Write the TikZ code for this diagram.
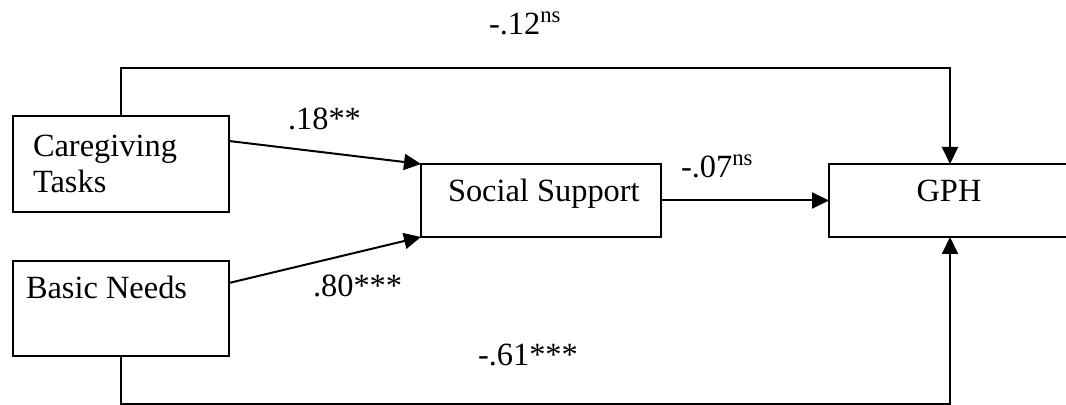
\documentclass[tikz,border=0pt]{standalone}
\usepackage{fontspec}
\setmainfont{Liberation Serif}
\usetikzlibrary{arrows.meta}
\begin{document}
\begin{tikzpicture}[x=0.5pt,y=-0.5pt,
  box/.style={draw, line width=1pt, inner sep=0pt, outer sep=0pt, anchor=north west},
  lbl/.style={inner sep=0pt, outer sep=0pt, anchor=base west, font=\fontsize{16.2}{19}\selectfont},
  con/.style={line width=1pt},
  arr/.style={line width=1pt, -{Triangle[length=8.5pt,width=8pt]}}]
\useasboundingbox (0,0) rectangle (1066,405);
% boxes
\node[box, minimum width=108pt, minimum height=48pt] (cg) at (13,116) {};
\node[box, minimum width=108pt, minimum height=47.5pt] (bn) at (13,261) {};
\node[box, minimum width=120pt, minimum height=36.5pt] (ss) at (421,164) {};
\node[box, minimum width=121pt, minimum height=36.5pt] (gph) at (829,164) {};
% box texts
\node[lbl] (cgt1) at (33,157) {Caregiving};
\node[lbl] (cgt2) at (33,193) {Tasks};
\node[lbl] (bnt) at (26,299) {Basic Needs};
\node[lbl] (sst) at (448,202) {Social Support};
\node[lbl, anchor=base] (gpht) at (949,202) {GPH};
% coefficient labels
\node[lbl] (l12) at (489,35) {-.12\textsuperscript{ns}};
\node[lbl] (l18) at (288,130) {.18**};
\node[lbl] (l80) at (313,297) {.80***};
\node[lbl] (l07) at (681,178) {-.07\textsuperscript{ns}};
\node[lbl] (l61) at (478,366) {-.61***};
% connectors
\coordinate (top) at (0,68);
\coordinate (bot) at (0,404);
\draw[arr] (cg.north) -- (cg.north |- top) -- (gph.north |- top) -- (gph.north);
\draw[arr] (bn.south) -- (bn.south |- bot) -- (gph.south |- bot) -- (gph.south);
\draw[arr] ([yshift=-12.5pt]cg.north east) -- (ss.north west);
\draw[arr] ([yshift=-11pt]bn.north east) -- (ss.south west);
\draw[arr] (ss.east) -- (gph.west);
\end{tikzpicture}
\end{document}
